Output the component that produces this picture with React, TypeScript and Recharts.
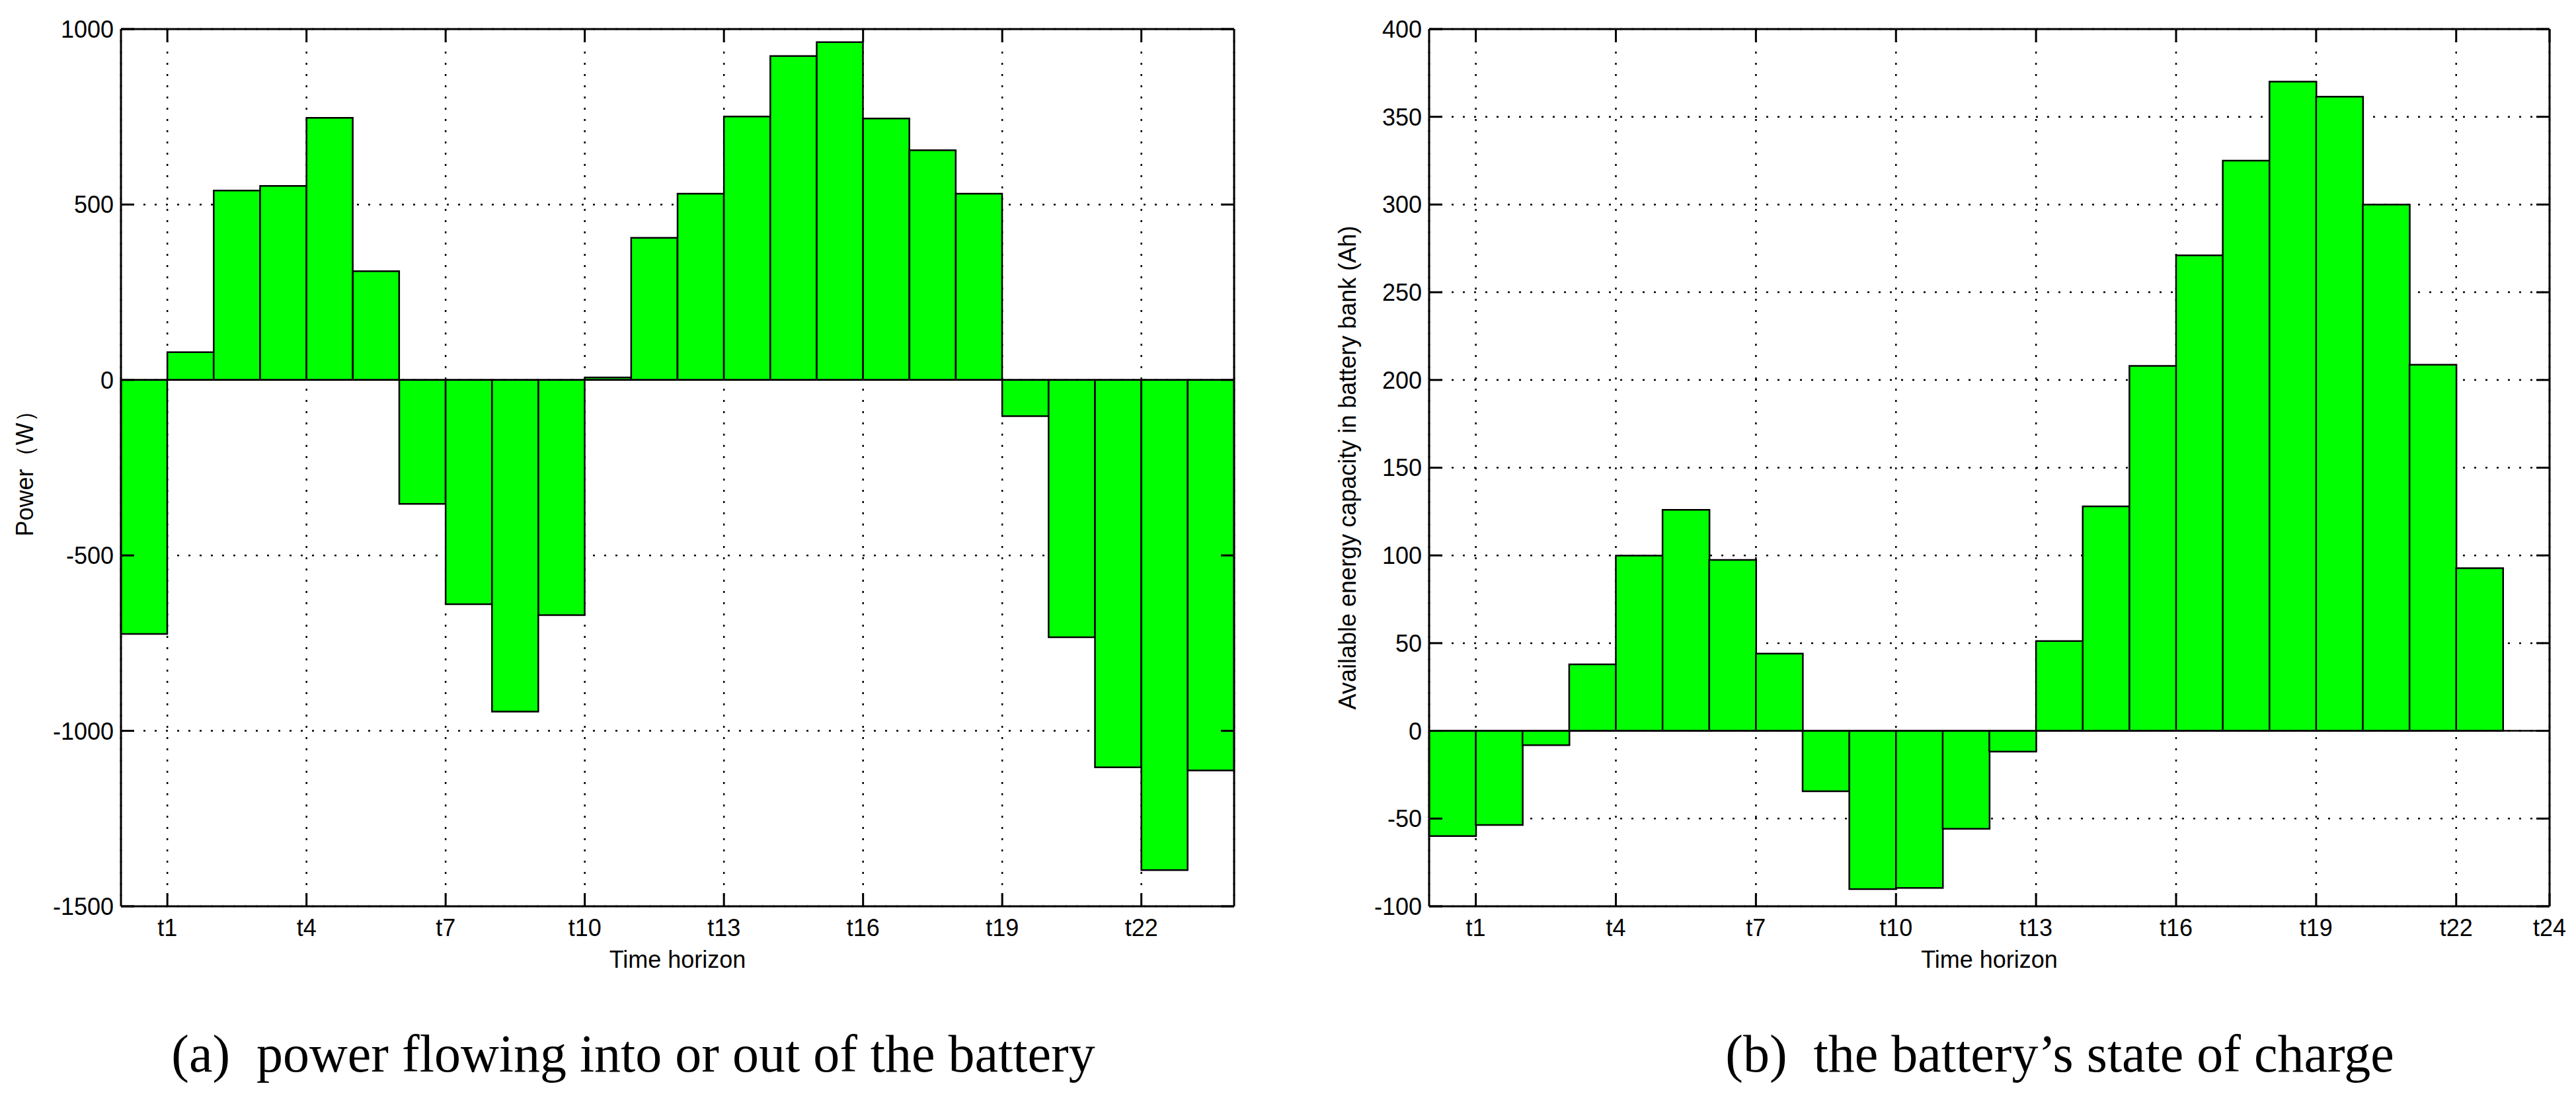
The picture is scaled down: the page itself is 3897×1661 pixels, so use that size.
import React from "react";
import {
  BarChart,
  Bar,
  XAxis,
  YAxis,
  CartesianGrid,
  ReferenceLine,
} from "recharts";

// hourly slots of the time horizon
const slots = [
  "t1", "t2", "t3", "t4", "t5", "t6", "t7", "t8", "t9", "t10", "t11", "t12",
  "t13", "t14", "t15", "t16", "t17", "t18", "t19", "t20", "t21", "t22", "t23", "t24",
];

// (a) power flowing into (+) or out of (-) the battery, W
const powerW = [
  -724, 79, 540, 553, 747, 310, -353, -639, -945, -670, 7, 405,
  531, 751, 923, 963, 745, 655, 531, -103, -733, -1104, -1397, -1113,
];

// (b) available energy capacity in the battery bank, Ah (23 slots)
const chargeAh = [
  -60, -53.7, -8.2, 37.9, 99.9, 126, 97.4, 44, -34.4, -90.2, -89.5, -55.8,
  -11.8, 51.2, 128, 208, 271, 325, 370, 361.5, 300, 208.7, 92.7,
];

const powerTicks = [-1500, -1000, -500, 0, 500, 1000];
const chargeTicks = [-100, -50, 0, 50, 100, 150, 200, 250, 300, 350, 400];

const xTickSlotsA = [1, 4, 7, 10, 13, 16, 19, 22];
const xTickLabelsA = ["t1", "t4", "t7", "t10", "t13", "t16", "t19", "t22"];
const xTickSlotsB = [1, 4, 7, 10, 13, 16, 19, 22, 24];
const xTickLabelsB = ["t1", "t4", "t7", "t10", "t13", "t16", "t19", "t22", "t24"];

const FONT = "'Liberation Sans', Arial, Helvetica, sans-serif";
const TICK_LEN = 20;
const CHART_W = 1907;
const CHART_H = 1600;
const PLOT_TOP = 44;
const PLOT_BOTTOM = 1371;
const RIGHT_GAP = 40;

const BottomTick = (p: any) => {
  const { x, y, payload, slotsList, labels } = p;
  const label = labels[slotsList.indexOf(payload.value)];
  return (
    <g>
      <line x1={x} x2={x} y1={y} y2={y - TICK_LEN} stroke="#000" strokeWidth={3} />
      <text x={x} y={y + 45} textAnchor="middle" fontSize={36} fontFamily={FONT} fill="#000">
        {label}
      </text>
    </g>
  );
};

const TopTick = (p: any) => (
  <line x1={p.x} x2={p.x} y1={p.y} y2={p.y + TICK_LEN} stroke="#000" strokeWidth={3} />
);

const LeftTick = (p: any) => {
  const { x, y, payload } = p;
  return (
    <g>
      <line x1={x} x2={x + TICK_LEN} y1={y} y2={y} stroke="#000" strokeWidth={3} />
      <text x={x - 11} y={y} dy="0.36em" textAnchor="end" fontSize={36} fontFamily={FONT} fill="#000">
        {payload.value}
      </text>
    </g>
  );
};

const RightTick = (p: any) => (
  <line x1={p.x} x2={p.x - TICK_LEN} y1={p.y} y2={p.y} stroke="#000" strokeWidth={3} />
);

const YTitle = (p: any) => {
  const cy = (PLOT_TOP + PLOT_BOTTOM) / 2;
  const cx = p.titleX;
  return (
    <text
      x={cx}
      y={cy}
      transform={`rotate(-90 ${cx} ${cy})`}
      textAnchor="middle"
      dominantBaseline="central"
      fontSize={36}
      fontFamily={FONT}
      fill="#000"
    >
      {p.title}
    </text>
  );
};

const XTitle = (p: any) => (
  <text
    x={p.titleX}
    y={PLOT_BOTTOM + 93}
    textAnchor="middle"
    fontSize={36}
    fontFamily={FONT}
    fill="#000"
  >
    {p.title}
  </text>
);

type PanelProps = {
  values: number[];
  yDomain: [number, number];
  yTicks: number[];
  xSlots: number[];
  xLabels: string[];
  yTitle: string;
  yTitleX: number;
  yAxisWidth: number;
  left: number;
};

function Panel(props: PanelProps) {
  const { values, yDomain, yTicks, xSlots, xLabels, yTitle, yTitleX, yAxisWidth, left } = props;
  const rows = slots.map((s, i) => ({
    slot: s,
    mid: i + 0.5,
    value: values[i] ?? null,
  }));
  const axisLine = { stroke: "#000", strokeWidth: 3 };
  const plotCenterX = (yAxisWidth + CHART_W - RIGHT_GAP) / 2;

  return (
    <div style={{ position: "absolute", left, top: 0 }}>
      <BarChart
        width={CHART_W}
        height={CHART_H}
        data={rows}
        margin={{
          top: PLOT_TOP - 1,
          right: RIGHT_GAP - 1,
          bottom: CHART_H - PLOT_BOTTOM - 110,
          left: 0,
        }}
        barCategoryGap={0}
        barGap={0}
      >
        <CartesianGrid
          xAxisId="num"
          yAxisId="l"
          stroke="#000"
          strokeWidth={2.5}
          strokeDasharray="3 14"
        />
        <XAxis
          xAxisId="num"
          dataKey="mid"
          type="number"
          domain={[0, 24]}
          allowDataOverflow
          ticks={xSlots}
          interval={0}
          height={110}
          tickSize={0}
          tickMargin={0}
          tickLine={false}
          axisLine={axisLine}
          tick={(p: any) => <BottomTick {...p} slotsList={xSlots} labels={xLabels} />}
          label={<XTitle title="Time horizon" titleX={plotCenterX} />}
        />
        <XAxis xAxisId="cat" dataKey="slot" hide height={0} />
        <XAxis
          xAxisId="numTop"
          orientation="top"
          dataKey="mid"
          type="number"
          domain={[0, 24]}
          allowDataOverflow
          ticks={xSlots}
          interval={0}
          height={1}
          tickSize={0}
          tickMargin={0}
          tickLine={false}
          axisLine={axisLine}
          tick={(p: any) => <TopTick {...p} />}
        />
        <YAxis
          yAxisId="l"
          type="number"
          domain={yDomain}
          allowDataOverflow
          ticks={yTicks}
          interval={0}
          width={yAxisWidth}
          tickSize={0}
          tickMargin={0}
          tickLine={false}
          axisLine={axisLine}
          tick={(p: any) => <LeftTick {...p} />}
          label={<YTitle title={yTitle} titleX={yTitleX} />}
        />
        <YAxis
          yAxisId="r"
          orientation="right"
          type="number"
          domain={yDomain}
          allowDataOverflow
          ticks={yTicks}
          interval={0}
          width={1}
          tickSize={0}
          tickMargin={0}
          tickLine={false}
          axisLine={axisLine}
          tick={(p: any) => <RightTick {...p} />}
        />
        <Bar
          xAxisId="cat"
          yAxisId="l"
          dataKey="value"
          fill="#00ff00"
          stroke="#000"
          strokeWidth={2.5}
          isAnimationActive={false}
        />
        <ReferenceLine xAxisId="num" yAxisId="l" y={0} stroke="#000" strokeWidth={2.5} />
      </BarChart>
    </div>
  );
}

export default function App() {
  return (
    <div
      style={{
        position: "absolute",
        left: 0,
        top: 0,
        width: 3897,
        height: 1661,
        background: "#fff",
        overflow: "hidden",
      }}
    >
      <Panel
        values={powerW}
        yDomain={[-1500, 1000]}
        yTicks={powerTicks}
        xSlots={xTickSlotsA}
        xLabels={xTickLabelsA}
        yTitle="Power（W）"
        yTitleX={37}
        yAxisWidth={183}
        left={0}
      />
      <Panel
        values={chargeAh}
        yDomain={[-100, 400]}
        yTicks={chargeTicks}
        xSlots={xTickSlotsB}
        xLabels={xTickLabelsB}
        yTitle="Available energy capacity in battery bank (Ah)"
        yTitleX={48}
        yAxisWidth={172}
        left={1990}
      />
      <svg
        width={3897}
        height={1661}
        style={{ position: "absolute", left: 0, top: 0, pointerEvents: "none" }}
      >
        <g fontFamily="'Liberation Serif', 'Times New Roman', serif" fontSize={80} fill="#000">
          <text x={958} y={1621} textAnchor="middle">
            (a)&#8194;power flowing into or out of the battery
          </text>
          <text x={3116} y={1621} textAnchor="middle">
            (b)&#8194;the battery’s state of charge
          </text>
        </g>
      </svg>
    </div>
  );
}
